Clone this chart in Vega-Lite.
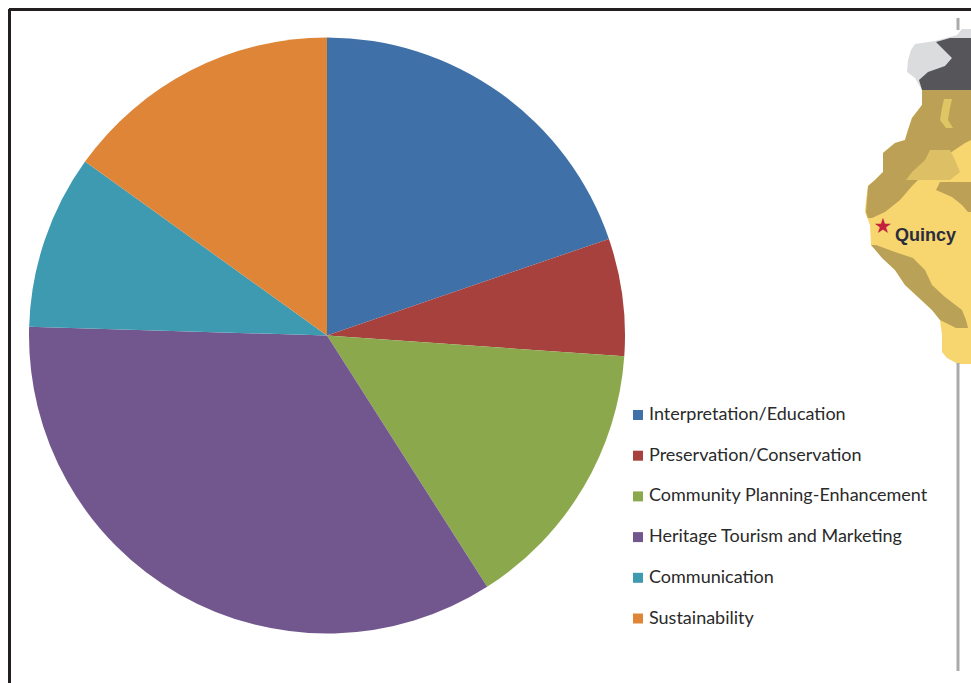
{"$schema":"https://vega.github.io/schema/vega-lite/v6.json","width":971,"height":683,"padding":0,"autosize":"none","background":"white","config":{"view":{"stroke":null}},
"datasets":{
"slices":[{"n":1,"topic":"Interpretation/Education","share":19.75},{"n":2,"topic":"Preservation/Conservation","share":6.36},{"n":3,"topic":"Community Planning-Enhancement","share":14.86},{"n":4,"topic":"Heritage Tourism and Marketing","share":34.5},{"n":5,"topic":"Communication","share":9.45},{"n":6,"topic":"Sustainability","share":15.08}],
"map":[
{"r":"gray","y":29,"x":962,"x2":971},{"r":"gray","y":35,"x":957,"x2":971},{"r":"gray","y":41,"x":935,"x2":971},{"r":"gray","y":44,"x":915,"x2":971},{"r":"gray","y":50,"x":911,"x2":971},{"r":"gray","y":60,"x":908,"x2":971},{"r":"gray","y":72,"x":907,"x2":971},{"r":"gray","y":78,"x":915,"x2":971},{"r":"gray","y":90,"x":922,"x2":971},
{"r":"trees","y":38,"x":950,"x2":971},{"r":"trees","y":42,"x":936,"x2":971},{"r":"trees","y":48,"x":942,"x2":971},{"r":"trees","y":58,"x":952,"x2":971},{"r":"trees","y":66,"x":945,"x2":971},{"r":"trees","y":72,"x":928,"x2":971},{"r":"trees","y":80,"x":919,"x2":971},{"r":"trees","y":90,"x":922,"x2":971},
{"r":"base","y":90,"x":922,"x2":971},{"r":"base","y":105,"x":922,"x2":971},{"r":"base","y":118,"x":912,"x2":971},{"r":"base","y":130,"x":908,"x2":971},{"r":"base","y":140,"x":905,"x2":971},{"r":"base","y":143,"x":895,"x2":971},{"r":"base","y":153,"x":883,"x2":971},{"r":"base","y":172,"x":883,"x2":971},{"r":"base","y":180,"x":875,"x2":971},{"r":"base","y":186,"x":868,"x2":971},{"r":"base","y":200,"x":866,"x2":971},{"r":"base","y":212,"x":865,"x2":971},{"r":"base","y":225,"x":870,"x2":971},{"r":"base","y":245,"x":871,"x2":971},{"r":"base","y":255,"x":880,"x2":971},{"r":"base","y":270,"x":895,"x2":971},{"r":"base","y":285,"x":905,"x2":971},{"r":"base","y":297,"x":918,"x2":971},{"r":"base","y":310,"x":932,"x2":971},{"r":"base","y":320,"x":940,"x2":971},{"r":"base","y":335,"x":942,"x2":971},{"r":"base","y":352,"x":942,"x2":971},{"r":"base","y":358,"x":947,"x2":971},{"r":"base","y":364,"x":958,"x2":971},
{"r":"olive","y":90,"x":922,"x2":971},{"r":"olive","y":105,"x":922,"x2":971},{"r":"olive","y":118,"x":912,"x2":971},{"r":"olive","y":130,"x":908,"x2":971},{"r":"olive","y":140,"x":905,"x2":971},{"r":"olive","y":143,"x":895,"x2":965},{"r":"olive","y":153,"x":883,"x2":950},{"r":"olive","y":172,"x":883,"x2":925},{"r":"olive","y":180,"x":875,"x2":918},{"r":"olive","y":186,"x":868,"x2":912},{"r":"olive","y":200,"x":867,"x2":900},{"r":"olive","y":212,"x":866,"x2":885},{"r":"olive","y":218,"x":868,"x2":872},
{"r":"olive2","y":182,"x":940,"x2":971},{"r":"olive2","y":190,"x":936,"x2":971},{"r":"olive2","y":197,"x":952,"x2":971},{"r":"olive2","y":205,"x":962,"x2":971},{"r":"olive2","y":212,"x":968,"x2":971},
{"r":"coast","y":245,"x":871,"x2":876},{"r":"coast","y":252,"x":877,"x2":895},{"r":"coast","y":258,"x":882,"x2":913},{"r":"coast","y":270,"x":895,"x2":925},{"r":"coast","y":285,"x":905,"x2":932},{"r":"coast","y":297,"x":918,"x2":945},{"r":"coast","y":310,"x":932,"x2":962},{"r":"coast","y":320,"x":940,"x2":966},{"r":"coast","y":328,"x":956,"x2":968},
{"r":"patch","y":99,"x":944,"x2":952},{"r":"patch","y":108,"x":942,"x2":950},{"r":"patch","y":120,"x":940,"x2":948},{"r":"patch","y":128,"x":946,"x2":953},
{"r":"patch2","y":150,"x":930,"x2":950},{"r":"patch2","y":160,"x":925,"x2":955},{"r":"patch2","y":172,"x":912,"x2":960},{"r":"patch2","y":180,"x":906,"x2":950}
],
"lines":[{"x":958,"xb":958,"y":18,"yb":30},{"x":958,"xb":958,"y":363,"yb":671}],
"frame":[{"x":9.5,"xb":9.5,"y":9,"yb":683},{"x":9,"xb":971,"y":9.5,"yb":9.5}],
"labels":[{"name":"Quincy","x":895,"y":236}],
"stars":[{"name":"★","x":883,"y":227}]
},
"layer":[
{"data":{"name":"slices"},"mark":{"type":"arc","outerRadius":298},
"encoding":{"x":{"datum":327,"type":"quantitative","scale":{"domain":[0,971]},"axis":null},"y":{"datum":335.5,"type":"quantitative","scale":{"domain":[683,0]},"axis":null},
"theta":{"field":"share","type":"quantitative","stack":true},"order":{"field":"n","type":"ordinal"},
"color":{"field":"topic","type":"nominal","sort":null,"scale":{"domain":["Interpretation/Education","Preservation/Conservation","Community Planning-Enhancement","Heritage Tourism and Marketing","Communication","Sustainability"],"range":["#3F71A8","#A7413E","#8CA84C","#72578E","#3E9AB1","#DE8538"]},
"legend":{"orient":"none","legendX":629,"legendY":406,"title":null,"symbolType":"square","symbolSize":100,"symbolStrokeWidth":0,"labelFont":"Lato","labelFontSize":18,"labelColor":"#2a2a2a","labelLimit":320,"rowPadding":22.7,"labelOffset":2}}}},
{"data":{"name":"map"},"mark":{"type":"area","orient":"horizontal","interpolate":"linear","opacity":1},
"encoding":{"y":{"field":"y","type":"quantitative","scale":{"domain":[683,0]},"axis":null},"x":{"field":"x","type":"quantitative","scale":{"domain":[0,971]},"axis":null,"stack":null},"x2":{"field":"x2"},
"color":{"field":"r","type":"nominal","legend":null,"scale":{"domain":["gray","trees","base","olive","olive2","coast","patch","patch2"],"range":["#DADCDE","#55555A","#F7D56F","#BBA055","#BBA055","#B9A258","#E0C565","#DDBF65"]}}}},
{"data":{"name":"lines"},"mark":{"type":"rule","color":"#ABABAB","strokeWidth":3},"encoding":{"x":{"field":"x","type":"quantitative","scale":{"domain":[0,971]},"axis":null},"x2":{"field":"xb"},"y":{"field":"y","type":"quantitative","scale":{"domain":[683,0]},"axis":null},"y2":{"field":"yb"}}},
{"data":{"name":"frame"},"mark":{"type":"rule","color":"#231F20","strokeWidth":3},"encoding":{"x":{"field":"x","type":"quantitative","scale":{"domain":[0,971]},"axis":null},"x2":{"field":"xb"},"y":{"field":"y","type":"quantitative","scale":{"domain":[683,0]},"axis":null},"y2":{"field":"yb"}}},
{"data":{"name":"labels"},"mark":{"type":"text","align":"left","baseline":"middle","font":"Liberation Sans","fontWeight":"bold","fontSize":18,"fill":"#2A2D3C"},"encoding":{"x":{"field":"x","type":"quantitative","scale":{"domain":[0,971]},"axis":null},"y":{"field":"y","type":"quantitative","scale":{"domain":[683,0]},"axis":null},"text":{"field":"name"}}},
{"data":{"name":"stars"},"mark":{"type":"text","align":"center","baseline":"middle","font":"DejaVu Sans","fontSize":21,"fill":"#C5213D"},"encoding":{"x":{"field":"x","type":"quantitative","scale":{"domain":[0,971]},"axis":null},"y":{"field":"y","type":"quantitative","scale":{"domain":[683,0]},"axis":null},"text":{"field":"name"}}}
],
"resolve":{"scale":{"color":"independent"}}}
